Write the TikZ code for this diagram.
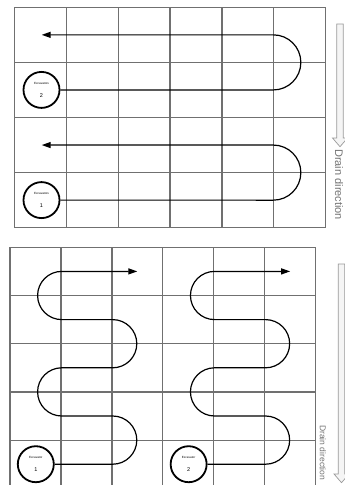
\documentclass[tikz,border=0pt]{standalone}
\usepackage{fontspec}
\setmainfont{Liberation Sans}
\usepackage{tikz}
\usetikzlibrary{arrows.meta}
\definecolor{gridgray}{HTML}{707070}
\definecolor{draingray}{HTML}{9A9A9A}

\tikzset{
  gridline/.style={gridgray, line width=1.2pt},
  route/.style={black, line width=1.2pt},
  routetip/.style={route, -{Triangle[length=9pt,width=6pt]}},
  excavator/.style={circle, draw=black, line width=1.8pt, fill=white, minimum size=36pt, inner sep=0pt, align=center},
  drainarrow/.style={draw=draingray, fill=gray!8, line width=0.7pt},
  draintext/.style={text=gray!90!black, anchor=west, rotate=-90, inner sep=0pt}
}

\begin{document}
\begin{tikzpicture}[x=1pt, y=-1pt]
\useasboundingbox (0,0) rectangle (345,485);

% upper field
\foreach \i in {0,...,6} \draw[gridline] ({14.3+51.9*\i},7.3) -- ({14.3+51.9*\i},227.7);
\foreach \j in {0,...,4} \draw[gridline] (14.3,{7.3+55.1*\j}) -- (325.7,{7.3+55.1*\j});

\node[excavator] (excA2) at (41.5,89.9) {{\fontsize{3}{4}\selectfont Excavators}\\[1pt]{\fontsize{5.5}{6}\selectfont 2}};
\node[excavator] (excA1) at (41.5,200.1) {{\fontsize{3}{4}\selectfont Excavators}\\[1pt]{\fontsize{5.5}{6}\selectfont 1}};

\draw[routetip] (excA2) -- (273.3,89.95) arc[start angle=-90, end angle=90, radius=27.55pt] -- (41.7,34.85);
\draw[routetip] (excA1) -- (273.3,200.15) arc[start angle=-90, end angle=90, radius=27.55pt] -- (41.7,145.05);

\draw[drainarrow] (336.7,24) -- (343.3,24) -- (343.3,138) -- (347.5,138) -- (340,146.7) -- (332.5,138) -- (336.7,138) -- cycle;
\node[draintext, font=\fontsize{11}{12}\selectfont] (drainA) at (339,149) {Drain direction};

% lower field
\foreach \i in {0,...,6} \draw[gridline] ({10+50.95*\i},247.3) -- ({10+50.95*\i},487);
\foreach \j in {0,...,4} \draw[gridline] (10,{247.3+48.2*\j}) -- (315.7,{247.3+48.2*\j});

\foreach \dx/\n in {0/1, 152.85/2} {
  \begin{scope}[xshift=\dx pt]
    \node[excavator] (excB\n) at (35.8,464.2) {{\fontsize{3}{4}\selectfont Excavator}\\[1pt]{\fontsize{5.5}{6}\selectfont \n}};
    \draw[routetip] (excB\n) -- (112.7,464.2) arc[start angle=-90, end angle=90, radius=24.1pt]
      -- (61.7,416.0) arc[start angle=270, end angle=90, radius=24.1pt]
      -- (112.7,367.8) arc[start angle=-90, end angle=90, radius=24.1pt]
      -- (61.7,319.6) arc[start angle=270, end angle=90, radius=24.1pt]
      -- (137.3,271.4);
  \end{scope}
}

\draw[drainarrow] (338.2,264) -- (344.8,264) -- (344.8,474) -- (349,474) -- (341.5,482.7) -- (334,474) -- (338.2,474) -- cycle;
\node[draintext, font=\fontsize{8.5}{10}\selectfont] (drainB) at (323,425) {Drain direction};
\end{tikzpicture}
\end{document}
